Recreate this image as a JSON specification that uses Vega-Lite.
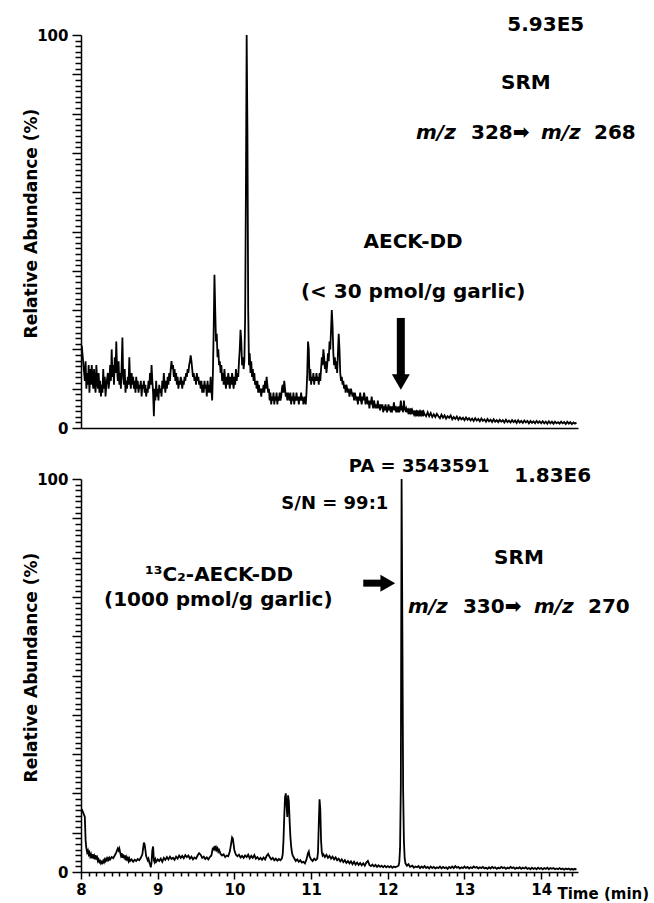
{
"$schema": "https://vega.github.io/schema/vega-lite/v6.json",
"padding": {"left": 22, "top": 15, "right": 0, "bottom": 0},
"background": "white",
"bounds": "flush",
"spacing": 51,
"config": {"view": {"stroke": null}, "font": "DejaVu Sans"},
"datasets": {
"top": [
{"t":8.01,"v":21},{"t":8.05,"v":12},{"t":8.06,"v":17},{"t":8.07,"v":10},{"t":8.08,"v":14},{"t":8.09,"v":11},{"t":8.10,"v":16},{"t":8.11,"v":9},{"t":8.12,"v":15},{"t":8.13,"v":11},{"t":8.14,"v":16},{"t":8.15,"v":12},{"t":8.16,"v":10},{"t":8.17,"v":15},{"t":8.18,"v":11},{"t":8.19,"v":9},{"t":8.20,"v":16},{"t":8.21,"v":12},{"t":8.22,"v":10},{"t":8.23,"v":14},{"t":8.24,"v":9},{"t":8.25,"v":12},{"t":8.26,"v":8},{"t":8.27,"v":11},{"t":8.28,"v":9},{"t":8.29,"v":15},{"t":8.30,"v":10},{"t":8.31,"v":13},{"t":8.32,"v":8},{"t":8.33,"v":11},{"t":8.35,"v":14},{"t":8.36,"v":10},{"t":8.37,"v":12},{"t":8.38,"v":16},{"t":8.39,"v":12},{"t":8.40,"v":20},{"t":8.41,"v":13},{"t":8.42,"v":16},{"t":8.43,"v":11},{"t":8.44,"v":18},{"t":8.45,"v":14},{"t":8.46,"v":22},{"t":8.47,"v":15},{"t":8.48,"v":12},{"t":8.49,"v":17},{"t":8.50,"v":11},{"t":8.51,"v":14},{"t":8.52,"v":10},{"t":8.53,"v":16},{"t":8.54,"v":23},{"t":8.55,"v":13},{"t":8.56,"v":11},{"t":8.57,"v":15},{"t":8.58,"v":9},{"t":8.59,"v":12},{"t":8.60,"v":10},{"t":8.61,"v":13},{"t":8.62,"v":11},{"t":8.63,"v":18},{"t":8.64,"v":12},{"t":8.65,"v":10},{"t":8.66,"v":14},{"t":8.67,"v":11},{"t":8.68,"v":13},{"t":8.69,"v":10},{"t":8.70,"v":12},{"t":8.71,"v":9},{"t":8.72,"v":13},{"t":8.73,"v":10},{"t":8.74,"v":12},{"t":8.75,"v":9},{"t":8.76,"v":11},{"t":8.77,"v":10},{"t":8.78,"v":12},{"t":8.79,"v":8},{"t":8.80,"v":11},{"t":8.81,"v":10},{"t":8.82,"v":12},{"t":8.83,"v":9},{"t":8.84,"v":11},{"t":8.85,"v":8},{"t":8.86,"v":10},{"t":8.87,"v":9},{"t":8.88,"v":12},{"t":8.89,"v":10},{"t":8.90,"v":14},{"t":8.91,"v":11},{"t":8.92,"v":16},{"t":8.93,"v":12},{"t":8.94,"v":9},{"t":8.95,"v":3},{"t":8.96,"v":10},{"t":8.97,"v":7},{"t":8.98,"v":12},{"t":8.99,"v":8},{"t":9.00,"v":10},{"t":9.01,"v":7},{"t":9.02,"v":11},{"t":9.03,"v":9},{"t":9.04,"v":10},{"t":9.05,"v":8},{"t":9.06,"v":12},{"t":9.07,"v":10},{"t":9.08,"v":14},{"t":9.09,"v":11},{"t":9.10,"v":9},{"t":9.11,"v":12},{"t":9.12,"v":10},{"t":9.13,"v":13},{"t":9.14,"v":11},{"t":9.15,"v":14},{"t":9.16,"v":12},{"t":9.17,"v":15},{"t":9.18,"v":17},{"t":9.19,"v":15},{"t":9.20,"v":16},{"t":9.21,"v":13},{"t":9.22,"v":15},{"t":9.23,"v":12},{"t":9.24,"v":14},{"t":9.25,"v":11},{"t":9.26,"v":13},{"t":9.27,"v":10},{"t":9.28,"v":12},{"t":9.29,"v":11},{"t":9.30,"v":13},{"t":9.31,"v":12},{"t":9.32,"v":10},{"t":9.33,"v":12},{"t":9.34,"v":11},{"t":9.35,"v":13},{"t":9.36,"v":12},{"t":9.37,"v":14},{"t":9.38,"v":13},{"t":9.39,"v":15},{"t":9.40,"v":14},{"t":9.41,"v":16},{"t":9.42,"v":17},{"t":9.43,"v":18.5},{"t":9.44,"v":17},{"t":9.45,"v":15},{"t":9.46,"v":13},{"t":9.47,"v":14},{"t":9.48,"v":12},{"t":9.49,"v":13},{"t":9.50,"v":11},{"t":9.51,"v":14},{"t":9.52,"v":12},{"t":9.53,"v":13},{"t":9.54,"v":11},{"t":9.55,"v":12},{"t":9.56,"v":10},{"t":9.57,"v":12},{"t":9.58,"v":9},{"t":9.59,"v":11},{"t":9.60,"v":9},{"t":9.61,"v":12},{"t":9.62,"v":10},{"t":9.63,"v":11},{"t":9.64,"v":8},{"t":9.65,"v":12},{"t":9.66,"v":9},{"t":9.67,"v":11},{"t":9.68,"v":9},{"t":9.69,"v":13},{"t":9.70,"v":10},{"t":9.71,"v":7},{"t":9.72,"v":14},{"t":9.73,"v":25},{"t":9.74,"v":39},{"t":9.75,"v":30},{"t":9.76,"v":22},{"t":9.77,"v":24},{"t":9.78,"v":18},{"t":9.79,"v":20},{"t":9.80,"v":16},{"t":9.81,"v":17},{"t":9.82,"v":14},{"t":9.83,"v":16},{"t":9.84,"v":12},{"t":9.85,"v":14},{"t":9.86,"v":11},{"t":9.87,"v":15},{"t":9.88,"v":12},{"t":9.89,"v":10},{"t":9.90,"v":13},{"t":9.91,"v":11},{"t":9.92,"v":14},{"t":9.93,"v":12},{"t":9.94,"v":10},{"t":9.95,"v":13},{"t":9.96,"v":11},{"t":9.97,"v":14},{"t":9.98,"v":12},{"t":9.99,"v":10},{"t":10.00,"v":13},{"t":10.01,"v":11},{"t":10.02,"v":15},{"t":10.03,"v":12},{"t":10.04,"v":14},{"t":10.05,"v":13},{"t":10.06,"v":17},{"t":10.07,"v":20},{"t":10.08,"v":25},{"t":10.09,"v":22},{"t":10.10,"v":16},{"t":10.11,"v":18},{"t":10.12,"v":15},{"t":10.13,"v":17},{"t":10.14,"v":28},{"t":10.15,"v":60},{"t":10.16,"v":100},{"t":10.17,"v":75},{"t":10.18,"v":30},{"t":10.19,"v":16},{"t":10.20,"v":19},{"t":10.21,"v":14},{"t":10.22,"v":17},{"t":10.23,"v":13},{"t":10.24,"v":15},{"t":10.25,"v":12},{"t":10.26,"v":14},{"t":10.27,"v":11},{"t":10.28,"v":12},{"t":10.29,"v":10},{"t":10.30,"v":12},{"t":10.31,"v":9},{"t":10.32,"v":11},{"t":10.33,"v":9},{"t":10.34,"v":10},{"t":10.35,"v":8},{"t":10.36,"v":10},{"t":10.37,"v":9},{"t":10.38,"v":11},{"t":10.39,"v":9},{"t":10.40,"v":12},{"t":10.41,"v":10},{"t":10.42,"v":13},{"t":10.43,"v":11},{"t":10.44,"v":9},{"t":10.45,"v":10},{"t":10.46,"v":7},{"t":10.47,"v":9},{"t":10.48,"v":6},{"t":10.49,"v":8},{"t":10.50,"v":7},{"t":10.51,"v":9},{"t":10.52,"v":6},{"t":10.53,"v":8},{"t":10.54,"v":7},{"t":10.55,"v":9},{"t":10.56,"v":6},{"t":10.57,"v":8},{"t":10.58,"v":7},{"t":10.59,"v":9},{"t":10.60,"v":7},{"t":10.61,"v":8},{"t":10.62,"v":10},{"t":10.63,"v":11},{"t":10.64,"v":9},{"t":10.65,"v":12},{"t":10.66,"v":10},{"t":10.67,"v":8},{"t":10.68,"v":9},{"t":10.69,"v":7},{"t":10.70,"v":9},{"t":10.71,"v":8},{"t":10.72,"v":7},{"t":10.73,"v":9},{"t":10.74,"v":6},{"t":10.75,"v":8},{"t":10.76,"v":7},{"t":10.77,"v":9},{"t":10.78,"v":6},{"t":10.79,"v":8},{"t":10.80,"v":7},{"t":10.81,"v":9},{"t":10.82,"v":7},{"t":10.83,"v":8},{"t":10.84,"v":6},{"t":10.85,"v":8},{"t":10.86,"v":7},{"t":10.87,"v":9},{"t":10.88,"v":7},{"t":10.89,"v":8},{"t":10.90,"v":6},{"t":10.91,"v":7},{"t":10.92,"v":8},{"t":10.93,"v":6},{"t":10.94,"v":9},{"t":10.95,"v":14},{"t":10.96,"v":22},{"t":10.97,"v":20},{"t":10.98,"v":12},{"t":10.99,"v":15},{"t":11.00,"v":11},{"t":11.01,"v":13},{"t":11.02,"v":12},{"t":11.03,"v":14},{"t":11.04,"v":11},{"t":11.05,"v":13},{"t":11.06,"v":12},{"t":11.07,"v":14},{"t":11.08,"v":12},{"t":11.09,"v":13},{"t":11.10,"v":11},{"t":11.11,"v":14},{"t":11.12,"v":12},{"t":11.13,"v":15},{"t":11.14,"v":18},{"t":11.15,"v":16},{"t":11.16,"v":20},{"t":11.17,"v":18},{"t":11.18,"v":15},{"t":11.19,"v":17},{"t":11.20,"v":14},{"t":11.21,"v":16},{"t":11.22,"v":19},{"t":11.23,"v":17},{"t":11.24,"v":22},{"t":11.25,"v":20},{"t":11.26,"v":25},{"t":11.27,"v":30},{"t":11.28,"v":26},{"t":11.29,"v":19},{"t":11.30,"v":16},{"t":11.31,"v":18},{"t":11.32,"v":15},{"t":11.33,"v":17},{"t":11.34,"v":14},{"t":11.35,"v":19},{"t":11.36,"v":24},{"t":11.37,"v":20},{"t":11.38,"v":14},{"t":11.39,"v":12},{"t":11.40,"v":13},{"t":11.41,"v":11},{"t":11.42,"v":12},{"t":11.43,"v":10},{"t":11.44,"v":11},{"t":11.45,"v":9},{"t":11.46,"v":11},{"t":11.47,"v":10},{"t":11.48,"v":9},{"t":11.49,"v":10},{"t":11.50,"v":8},{"t":11.52,"v":10},{"t":11.53,"v":9},{"t":11.54,"v":8},{"t":11.55,"v":9},{"t":11.56,"v":7},{"t":11.57,"v":9},{"t":11.58,"v":8},{"t":11.59,"v":7},{"t":11.60,"v":8},{"t":11.61,"v":6},{"t":11.62,"v":8},{"t":11.63,"v":7},{"t":11.64,"v":9},{"t":11.65,"v":7},{"t":11.66,"v":6},{"t":11.67,"v":8},{"t":11.68,"v":7},{"t":11.69,"v":9},{"t":11.70,"v":8},{"t":11.71,"v":6},{"t":11.72,"v":7},{"t":11.73,"v":8},{"t":11.74,"v":6},{"t":11.75,"v":7},{"t":11.76,"v":5},{"t":11.77,"v":7},{"t":11.78,"v":6},{"t":11.79,"v":8},{"t":11.80,"v":6},{"t":11.81,"v":5},{"t":11.82,"v":7},{"t":11.83,"v":6},{"t":11.84,"v":5},{"t":11.85,"v":6},{"t":11.86,"v":5},{"t":11.87,"v":7},{"t":11.88,"v":5},{"t":11.89,"v":6},{"t":11.90,"v":4.5},{"t":11.91,"v":6},{"t":11.92,"v":5},{"t":11.93,"v":6},{"t":11.94,"v":4},{"t":11.95,"v":5.5},{"t":11.96,"v":4.5},{"t":11.97,"v":6},{"t":11.98,"v":5},{"t":11.99,"v":4},{"t":12.00,"v":5},{"t":12.01,"v":6},{"t":12.02,"v":4.5},{"t":12.03,"v":5},{"t":12.04,"v":4},{"t":12.05,"v":5.5},{"t":12.06,"v":4.5},{"t":12.07,"v":5},{"t":12.08,"v":6.5},{"t":12.09,"v":4.5},{"t":12.10,"v":5},{"t":12.11,"v":4},{"t":12.12,"v":5},{"t":12.13,"v":4.5},{"t":12.14,"v":5.5},{"t":12.15,"v":4},{"t":12.16,"v":5},{"t":12.17,"v":7},{"t":12.18,"v":4.5},{"t":12.19,"v":5},{"t":12.20,"v":4},{"t":12.21,"v":7},{"t":12.22,"v":5},{"t":12.23,"v":4.5},{"t":12.24,"v":5},{"t":12.25,"v":4},{"t":12.26,"v":5},{"t":12.27,"v":3.5},{"t":12.28,"v":4.5},{"t":12.29,"v":4},{"t":12.30,"v":5},{"t":12.31,"v":3.5},{"t":12.32,"v":4.5},{"t":12.33,"v":4},{"t":12.34,"v":3.5},{"t":12.35,"v":4.5},{"t":12.36,"v":3.5},{"t":12.37,"v":4},{"t":12.38,"v":3},{"t":12.39,"v":4.5},{"t":12.40,"v":3.5},{"t":12.41,"v":4},{"t":12.42,"v":3},{"t":12.43,"v":4},{"t":12.44,"v":3.5},{"t":12.45,"v":4.5},{"t":12.46,"v":3},{"t":12.47,"v":4},{"t":12.48,"v":3.5},{"t":12.50,"v":3},{"t":12.52,"v":4},{"t":12.54,"v":3},{"t":12.56,"v":3.8},{"t":12.58,"v":2.8},{"t":12.60,"v":3.5},{"t":12.62,"v":2.8},{"t":12.64,"v":3.6},{"t":12.66,"v":3},{"t":12.68,"v":2.5},{"t":12.70,"v":3.4},{"t":12.72,"v":2.6},{"t":12.74,"v":3.2},{"t":12.76,"v":2.4},{"t":12.78,"v":3},{"t":12.80,"v":2.6},{"t":12.82,"v":3.2},{"t":12.84,"v":2.2},{"t":12.86,"v":2.8},{"t":12.88,"v":2.3},{"t":12.90,"v":2.9},{"t":12.92,"v":2.1},{"t":12.94,"v":2.7},{"t":12.96,"v":2.2},{"t":12.98,"v":2.6},{"t":13.00,"v":2.0},{"t":13.02,"v":2.7},{"t":13.04,"v":2.1},{"t":13.06,"v":2.5},{"t":13.08,"v":1.9},{"t":13.10,"v":2.4},{"t":13.12,"v":1.8},{"t":13.14,"v":2.5},{"t":13.16,"v":1.9},{"t":13.18,"v":2.3},{"t":13.20,"v":1.7},{"t":13.22,"v":2.4},{"t":13.24,"v":1.8},{"t":13.26,"v":2.2},{"t":13.28,"v":1.6},{"t":13.30,"v":2.3},{"t":13.32,"v":1.7},{"t":13.34,"v":2.1},{"t":13.36,"v":1.5},{"t":13.38,"v":2.2},{"t":13.40,"v":1.6},{"t":13.42,"v":2.0},{"t":13.44,"v":1.5},{"t":13.46,"v":2.1},{"t":13.48,"v":1.6},{"t":13.50,"v":2.0},{"t":13.52,"v":1.4},{"t":13.54,"v":2.1},{"t":13.56,"v":1.5},{"t":13.58,"v":1.9},{"t":13.60,"v":1.4},{"t":13.62,"v":2.0},{"t":13.64,"v":1.5},{"t":13.66,"v":1.9},{"t":13.68,"v":1.3},{"t":13.70,"v":2.0},{"t":13.72,"v":1.4},{"t":13.74,"v":1.8},{"t":13.76,"v":1.3},{"t":13.78,"v":1.9},{"t":13.80,"v":1.4},{"t":13.82,"v":1.8},{"t":13.84,"v":1.2},{"t":13.86,"v":1.8},{"t":13.88,"v":1.3},{"t":13.90,"v":1.7},{"t":13.92,"v":1.2},{"t":13.94,"v":1.8},{"t":13.96,"v":1.3},{"t":13.98,"v":1.7},{"t":14.00,"v":1.2},{"t":14.02,"v":1.7},{"t":14.04,"v":1.2},{"t":14.06,"v":1.6},{"t":14.08,"v":1.1},{"t":14.10,"v":1.7},{"t":14.12,"v":1.2},{"t":14.14,"v":1.6},{"t":14.16,"v":1.1},{"t":14.18,"v":1.6},{"t":14.20,"v":1.2},{"t":14.22,"v":1.5},{"t":14.24,"v":1.1},{"t":14.26,"v":1.6},{"t":14.28,"v":1.2},{"t":14.30,"v":1.5},{"t":14.32,"v":1.0},{"t":14.34,"v":1.6},{"t":14.36,"v":1.1},{"t":14.38,"v":1.5},{"t":14.40,"v":1.0},{"t":14.42,"v":1.4},{"t":14.44,"v":1.1},{"t":14.46,"v":1.4}
],
"bottom": [
{"t":8.01,"v":16},{"t":8.05,"v":14},{"t":8.06,"v":8},{"t":8.07,"v":6},{"t":8.08,"v":5},{"t":8.09,"v":5.5},{"t":8.10,"v":4.5},{"t":8.11,"v":5},{"t":8.12,"v":4},{"t":8.13,"v":4.5},{"t":8.14,"v":3.5},{"t":8.15,"v":4.5},{"t":8.16,"v":3.8},{"t":8.17,"v":4.2},{"t":8.18,"v":3.2},{"t":8.19,"v":4.3},{"t":8.20,"v":3.5},{"t":8.21,"v":3.8},{"t":8.22,"v":2.8},{"t":8.23,"v":3.2},{"t":8.24,"v":2.5},{"t":8.25,"v":2.8},{"t":8.26,"v":2.2},{"t":8.27,"v":2.6},{"t":8.28,"v":2.3},{"t":8.29,"v":2.9},{"t":8.30,"v":2.5},{"t":8.31,"v":3.2},{"t":8.32,"v":2.8},{"t":8.33,"v":3.4},{"t":8.34,"v":3},{"t":8.35,"v":3.5},{"t":8.36,"v":3.1},{"t":8.37,"v":3.6},{"t":8.38,"v":3.2},{"t":8.40,"v":3.8},{"t":8.42,"v":3.5},{"t":8.44,"v":4.2},{"t":8.46,"v":5},{"t":8.48,"v":6},{"t":8.49,"v":5.5},{"t":8.50,"v":6},{"t":8.51,"v":5},{"t":8.52,"v":4.2},{"t":8.53,"v":4.8},{"t":8.54,"v":3.6},{"t":8.55,"v":4.5},{"t":8.56,"v":3.5},{"t":8.57,"v":4.2},{"t":8.58,"v":3},{"t":8.59,"v":3.8},{"t":8.60,"v":3.2},{"t":8.61,"v":3.6},{"t":8.62,"v":2.8},{"t":8.63,"v":3.4},{"t":8.64,"v":2.8},{"t":8.66,"v":3.2},{"t":8.68,"v":2.6},{"t":8.70,"v":3.1},{"t":8.72,"v":2.8},{"t":8.74,"v":3.3},{"t":8.76,"v":3},{"t":8.78,"v":3.6},{"t":8.80,"v":4.5},{"t":8.81,"v":6},{"t":8.82,"v":7.5},{"t":8.83,"v":7},{"t":8.84,"v":5.5},{"t":8.85,"v":4},{"t":8.86,"v":3.5},{"t":8.87,"v":3},{"t":8.88,"v":3.4},{"t":8.89,"v":2.5},{"t":8.90,"v":2},{"t":8.91,"v":1.2},{"t":8.92,"v":2.5},{"t":8.93,"v":5.5},{"t":8.94,"v":6.5},{"t":8.95,"v":3},{"t":8.96,"v":2.5},{"t":8.97,"v":3.2},{"t":8.98,"v":2.6},{"t":9.00,"v":3.2},{"t":9.02,"v":2.8},{"t":9.04,"v":3.4},{"t":9.06,"v":2.6},{"t":9.08,"v":3.6},{"t":9.10,"v":3.1},{"t":9.12,"v":3.8},{"t":9.14,"v":3.2},{"t":9.16,"v":3.9},{"t":9.18,"v":3.3},{"t":9.20,"v":3.6},{"t":9.22,"v":3.1},{"t":9.24,"v":3.9},{"t":9.26,"v":3.4},{"t":9.28,"v":4.2},{"t":9.30,"v":3.6},{"t":9.32,"v":4.1},{"t":9.34,"v":3.5},{"t":9.36,"v":4.3},{"t":9.38,"v":3.8},{"t":9.40,"v":4.2},{"t":9.42,"v":3.4},{"t":9.44,"v":3.9},{"t":9.46,"v":3.2},{"t":9.48,"v":3.7},{"t":9.50,"v":3.4},{"t":9.52,"v":4.2},{"t":9.54,"v":4.8},{"t":9.56,"v":4.4},{"t":9.58,"v":3.6},{"t":9.60,"v":3.9},{"t":9.62,"v":3.3},{"t":9.64,"v":3.7},{"t":9.66,"v":3.2},{"t":9.68,"v":3.8},{"t":9.70,"v":4.2},{"t":9.72,"v":6.2},{"t":9.73,"v":5.5},{"t":9.74,"v":6.6},{"t":9.75,"v":5.8},{"t":9.76,"v":6.3},{"t":9.77,"v":5.6},{"t":9.78,"v":6},{"t":9.79,"v":5.2},{"t":9.80,"v":5.6},{"t":9.82,"v":4.6},{"t":9.84,"v":4.2},{"t":9.86,"v":4.5},{"t":9.88,"v":3.8},{"t":9.90,"v":4.2},{"t":9.92,"v":4},{"t":9.94,"v":5.2},{"t":9.96,"v":7.5},{"t":9.97,"v":8.8},{"t":9.98,"v":8.5},{"t":9.99,"v":7},{"t":10.00,"v":5.5},{"t":10.02,"v":4.4},{"t":10.04,"v":4},{"t":10.06,"v":4.4},{"t":10.08,"v":3.7},{"t":10.10,"v":4.1},{"t":10.12,"v":3.6},{"t":10.14,"v":4.2},{"t":10.16,"v":3.8},{"t":10.18,"v":4.4},{"t":10.20,"v":3.5},{"t":10.22,"v":4.1},{"t":10.24,"v":3.6},{"t":10.26,"v":4.3},{"t":10.28,"v":3.4},{"t":10.30,"v":3.8},{"t":10.32,"v":3.2},{"t":10.34,"v":3.6},{"t":10.36,"v":3.1},{"t":10.38,"v":3.7},{"t":10.40,"v":3.2},{"t":10.42,"v":4.1},{"t":10.44,"v":4.6},{"t":10.46,"v":3.8},{"t":10.48,"v":3.2},{"t":10.50,"v":3.6},{"t":10.52,"v":3},{"t":10.54,"v":3.4},{"t":10.56,"v":2.9},{"t":10.58,"v":3.3},{"t":10.60,"v":3},{"t":10.62,"v":3.5},{"t":10.63,"v":4.5},{"t":10.64,"v":8},{"t":10.65,"v":14},{"t":10.66,"v":19},{"t":10.67,"v":20},{"t":10.68,"v":17},{"t":10.69,"v":14},{"t":10.70,"v":19.5},{"t":10.71,"v":18},{"t":10.72,"v":13},{"t":10.73,"v":9},{"t":10.74,"v":6.5},{"t":10.75,"v":5},{"t":10.76,"v":4.2},{"t":10.78,"v":3.5},{"t":10.80,"v":2.8},{"t":10.82,"v":3.2},{"t":10.84,"v":2.6},{"t":10.86,"v":3},{"t":10.88,"v":2.4},{"t":10.90,"v":2.6},{"t":10.92,"v":2.2},{"t":10.94,"v":3.2},{"t":10.96,"v":4.8},{"t":10.97,"v":5.2},{"t":10.98,"v":4},{"t":11.00,"v":3.2},{"t":11.02,"v":2.8},{"t":11.04,"v":3.4},{"t":11.06,"v":3},{"t":11.08,"v":3.4},{"t":11.09,"v":5},{"t":11.10,"v":12},{"t":11.11,"v":18.5},{"t":11.12,"v":16},{"t":11.13,"v":8},{"t":11.14,"v":5},{"t":11.15,"v":4.2},{"t":11.16,"v":4.5},{"t":11.18,"v":3.8},{"t":11.20,"v":4.4},{"t":11.22,"v":3.6},{"t":11.24,"v":4.1},{"t":11.26,"v":3.4},{"t":11.28,"v":3.9},{"t":11.30,"v":3.2},{"t":11.32,"v":3.7},{"t":11.34,"v":3},{"t":11.36,"v":3.4},{"t":11.38,"v":2.7},{"t":11.40,"v":3.2},{"t":11.42,"v":2.5},{"t":11.44,"v":3},{"t":11.46,"v":2.3},{"t":11.48,"v":2.8},{"t":11.50,"v":2.2},{"t":11.52,"v":2.7},{"t":11.54,"v":2},{"t":11.56,"v":2.6},{"t":11.58,"v":1.9},{"t":11.60,"v":2.4},{"t":11.62,"v":1.8},{"t":11.64,"v":2.3},{"t":11.66,"v":1.7},{"t":11.68,"v":2.2},{"t":11.70,"v":1.6},{"t":11.72,"v":2.4},{"t":11.74,"v":2.8},{"t":11.76,"v":1.8},{"t":11.78,"v":1.5},{"t":11.80,"v":1.9},{"t":11.82,"v":1.4},{"t":11.84,"v":1.8},{"t":11.86,"v":1.3},{"t":11.88,"v":1.7},{"t":11.90,"v":1.3},{"t":11.92,"v":1.6},{"t":11.94,"v":1.2},{"t":11.96,"v":1.6},{"t":11.98,"v":1.2},{"t":12.00,"v":1.5},{"t":12.02,"v":1.2},{"t":12.04,"v":1.5},{"t":12.06,"v":1.1},{"t":12.08,"v":1.4},{"t":12.10,"v":1.2},{"t":12.12,"v":1.4},{"t":12.14,"v":1.6},{"t":12.15,"v":2.5},{"t":12.16,"v":6},{"t":12.17,"v":22},{"t":12.18,"v":100},{"t":12.19,"v":62},{"t":12.20,"v":21},{"t":12.21,"v":8},{"t":12.22,"v":3.5},{"t":12.23,"v":2.2},{"t":12.25,"v":1.6},{"t":12.27,"v":2},{"t":12.29,"v":1.3},{"t":12.32,"v":1.6},{"t":12.34,"v":1.1},{"t":12.36,"v":1.4},{"t":12.38,"v":1.2},{"t":12.40,"v":1.5},{"t":12.42,"v":1.0},{"t":12.44,"v":1.4},{"t":12.46,"v":1.1},{"t":12.48,"v":1.5},{"t":12.50,"v":1.0},{"t":12.52,"v":1.3},{"t":12.54,"v":0.9},{"t":12.56,"v":1.4},{"t":12.58,"v":1.0},{"t":12.60,"v":1.3},{"t":12.62,"v":0.9},{"t":12.64,"v":1.2},{"t":12.66,"v":1.0},{"t":12.68,"v":1.4},{"t":12.70,"v":0.9},{"t":12.72,"v":1.3},{"t":12.74,"v":1.0},{"t":12.76,"v":1.2},{"t":12.78,"v":0.8},{"t":12.80,"v":1.3},{"t":12.82,"v":1.0},{"t":12.84,"v":1.4},{"t":12.86,"v":1.0},{"t":12.88,"v":1.5},{"t":12.90,"v":1.1},{"t":12.92,"v":1.3},{"t":12.94,"v":0.9},{"t":12.96,"v":1.2},{"t":12.98,"v":1.0},{"t":13.00,"v":1.4},{"t":13.02,"v":1.0},{"t":13.04,"v":1.3},{"t":13.06,"v":0.9},{"t":13.08,"v":1.2},{"t":13.10,"v":1.0},{"t":13.12,"v":1.4},{"t":13.14,"v":1.1},{"t":13.16,"v":1.3},{"t":13.18,"v":0.9},{"t":13.20,"v":1.2},{"t":13.22,"v":1.0},{"t":13.24,"v":1.3},{"t":13.26,"v":0.9},{"t":13.28,"v":1.1},{"t":13.30,"v":0.8},{"t":13.32,"v":1.2},{"t":13.34,"v":0.9},{"t":13.36,"v":1.3},{"t":13.38,"v":1.0},{"t":13.40,"v":1.2},{"t":13.42,"v":0.8},{"t":13.44,"v":1.1},{"t":13.46,"v":0.9},{"t":13.48,"v":1.3},{"t":13.50,"v":1.0},{"t":13.52,"v":1.2},{"t":13.54,"v":0.8},{"t":13.56,"v":1.1},{"t":13.58,"v":0.9},{"t":13.60,"v":1.3},{"t":13.62,"v":1.0},{"t":13.64,"v":1.2},{"t":13.66,"v":0.8},{"t":13.68,"v":1.1},{"t":13.70,"v":0.9},{"t":13.72,"v":1.2},{"t":13.74,"v":0.8},{"t":13.76,"v":1.1},{"t":13.78,"v":0.9},{"t":13.80,"v":1.2},{"t":13.82,"v":0.8},{"t":13.84,"v":1.0},{"t":13.86,"v":0.7},{"t":13.88,"v":1.1},{"t":13.90,"v":0.8},{"t":13.92,"v":1.0},{"t":13.94,"v":0.7},{"t":13.96,"v":1.1},{"t":13.98,"v":0.8},{"t":14.00,"v":1.0},{"t":14.02,"v":0.7},{"t":14.04,"v":1.0},{"t":14.06,"v":0.8},{"t":14.08,"v":1.1},{"t":14.10,"v":0.7},{"t":14.12,"v":1.0},{"t":14.14,"v":0.8},{"t":14.16,"v":1.0},{"t":14.18,"v":0.7},{"t":14.20,"v":0.9},{"t":14.22,"v":0.7},{"t":14.24,"v":1.0},{"t":14.26,"v":0.7},{"t":14.28,"v":0.9},{"t":14.30,"v":0.6},{"t":14.32,"v":0.9},{"t":14.34,"v":0.7},{"t":14.36,"v":0.9},{"t":14.38,"v":0.6},{"t":14.40,"v":0.8},{"t":14.42,"v":0.6},{"t":14.44,"v":0.8},{"t":14.46,"v":0.6}
]
},
"vconcat": [
{
"width": 497, "height": 393,
"layer": [
{"data": {"name": "top"},
 "mark": {"type": "line", "color": "black", "strokeWidth": 1.8},
 "encoding": {
  "x": {"field": "t", "type": "quantitative", "scale": {"domain": [8, 14.48], "nice": false, "zero": false},
        "axis": {"title": null, "labels": false, "ticks": false, "grid": false, "domainColor": "black", "domainWidth": 1.5}},
  "y": {"field": "v", "type": "quantitative", "scale": {"domain": [0, 100], "nice": false},
        "axis": {"title": "Relative Abundance (%)", "grid": false, "tickCount": 500,
          "values": [0,1.4286,2.8571,4.2857,5.7143,7.1429,8.5714,10,11.4286,12.8571,14.2857,15.7143,17.1429,18.5714,20,21.4286,22.8571,24.2857,25.7143,27.1429,28.5714,30,31.4286,32.8571,34.2857,35.7143,37.1429,38.5714,40,41.4286,42.8571,44.2857,45.7143,47.1429,48.5714,50,51.4286,52.8571,54.2857,55.7143,57.1429,58.5714,60,61.4286,62.8571,64.2857,65.7143,67.1429,68.5714,70,71.4286,72.8571,74.2857,75.7143,77.1429,78.5714,80,81.4286,82.8571,84.2857,85.7143,87.1429,88.5714,90,91.4286,92.8571,94.2857,95.7143,97.1429,98.5714,100],
          "labelExpr": "datum.value == 0 || datum.value == 100 ? format(datum.value, 'd') : ''",
          "labelOverlap": false, "labelFlush": false,
          "labelFont": "DejaVu Sans", "labelFontWeight": "bold", "labelFontSize": 15, "labelColor": "black", "labelPadding": 4,
          "tickSize": {"condition": {"test": "datum.value % 10 === 0", "value": 9}, "value": 6},
          "tickColor": "black", "tickWidth": 1.5,
          "domainColor": "black", "domainWidth": 1.5,
          "titleFont": "DejaVu Sans", "titleFontWeight": "bold", "titleFontSize": 17, "titleColor": "black",
          "titleX": -50, "titleY": 188, "titleBaseline": "middle", "titleAlign": "center", "titleAngle": -90}}
 }},
{"data": {"values": [
  {"t": 14.06, "v": 102.5, "label": "5.93E5"},
  {"t": 13.80, "v": 87.8, "label": "SRM"},
  {"t": 12.33, "v": 47.3, "label": "AECK-DD"},
  {"t": 12.33, "v": 34.6, "label": "(< 30 pmol/g garlic)"}
 ]},
 "mark": {"type": "text", "font": "DejaVu Sans", "fontWeight": "bold", "fontSize": 20, "align": "center", "baseline": "middle", "color": "black"},
 "encoding": {"x": {"field": "t", "type": "quantitative"}, "y": {"field": "v", "type": "quantitative"}, "text": {"field": "label"}}},
{"data": {"values": [
  {"t": 12.368, "v": 75.1, "label": "m/z"},
  {"t": 13.997, "v": 75.1, "label": "m/z"}
 ]},
 "mark": {"type": "text", "font": "DejaVu Sans", "fontWeight": "bold", "fontStyle": "italic", "fontSize": 20, "align": "left", "baseline": "middle", "color": "black"},
 "encoding": {"x": {"field": "t", "type": "quantitative"}, "y": {"field": "v", "type": "quantitative"}, "text": {"field": "label"}}},
{"data": {"values": [
  {"t": 13.085, "v": 75.1, "label": "328➡"},
  {"t": 14.689, "v": 75.1, "label": "268"}
 ]},
 "mark": {"type": "text", "font": "DejaVu Sans", "fontWeight": "bold", "fontSize": 20, "align": "left", "baseline": "middle", "color": "black"},
 "encoding": {"x": {"field": "t", "type": "quantitative"}, "y": {"field": "v", "type": "quantitative"}, "text": {"field": "label"}}},
{"data": {"values": [{"t": 12.17, "v": 28, "v2": 11.5}]},
 "mark": {"type": "rule", "color": "black", "strokeWidth": 8},
 "encoding": {"x": {"field": "t", "type": "quantitative"}, "y": {"field": "v", "type": "quantitative"}, "y2": {"field": "v2"}}},
{"data": {"values": [{"t": 12.17, "v": 11.7}]},
 "mark": {"type": "point", "shape": "triangle-down", "size": 324, "filled": true, "color": "black", "opacity": 1, "strokeWidth": 0},
 "encoding": {"x": {"field": "t", "type": "quantitative"}, "y": {"field": "v", "type": "quantitative"}}}
]
},
{
"width": 497, "height": 393,
"layer": [
{"data": {"name": "bottom"},
 "mark": {"type": "line", "color": "black", "strokeWidth": 1.8},
 "encoding": {
  "x": {"field": "t", "type": "quantitative", "scale": {"domain": [8, 14.48], "nice": false, "zero": false},
        "axis": {"title": "Time (min)", "grid": false, "tickCount": 500,
          "values": [8,8.1,8.2,8.3,8.4,8.5,8.6,8.7,8.8,8.9,9,9.1,9.2,9.3,9.4,9.5,9.6,9.7,9.8,9.9,10,10.1,10.2,10.3,10.4,10.5,10.6,10.7,10.8,10.9,11,11.1,11.2,11.3,11.4,11.5,11.6,11.7,11.8,11.9,12,12.1,12.2,12.3,12.4,12.5,12.6,12.7,12.8,12.9,13,13.1,13.2,13.3,13.4,13.5,13.6,13.7,13.8,13.9,14,14.1,14.2,14.3,14.4],
          "labelExpr": "abs(datum.value - round(datum.value)) < 0.001 ? format(round(datum.value), 'd') : ''",
          "labelOverlap": false, "labelFlush": false,
          "labelFont": "DejaVu Sans", "labelFontWeight": "bold", "labelFontSize": 15, "labelColor": "black", "labelPadding": 3,
          "tickSize": {"condition": {"test": "abs(datum.value - round(datum.value)) < 0.001", "value": 7}, "value": 4},
          "tickColor": "black", "tickWidth": 1.5,
          "domainColor": "black", "domainWidth": 1.5,
          "titleFont": "DejaVu Sans", "titleFontWeight": "bold", "titleFontSize": 15, "titleColor": "black",
          "titleX": 476, "titleY": 21, "titleAlign": "left", "titleBaseline": "middle", "titleAngle": 0}},
  "y": {"field": "v", "type": "quantitative", "scale": {"domain": [0, 100], "nice": false},
        "axis": {"title": "Relative Abundance (%)", "grid": false, "tickCount": 500,
          "values": [0,1.4286,2.8571,4.2857,5.7143,7.1429,8.5714,10,11.4286,12.8571,14.2857,15.7143,17.1429,18.5714,20,21.4286,22.8571,24.2857,25.7143,27.1429,28.5714,30,31.4286,32.8571,34.2857,35.7143,37.1429,38.5714,40,41.4286,42.8571,44.2857,45.7143,47.1429,48.5714,50,51.4286,52.8571,54.2857,55.7143,57.1429,58.5714,60,61.4286,62.8571,64.2857,65.7143,67.1429,68.5714,70,71.4286,72.8571,74.2857,75.7143,77.1429,78.5714,80,81.4286,82.8571,84.2857,85.7143,87.1429,88.5714,90,91.4286,92.8571,94.2857,95.7143,97.1429,98.5714,100],
          "labelExpr": "datum.value == 0 || datum.value == 100 ? format(datum.value, 'd') : ''",
          "labelOverlap": false, "labelFlush": false,
          "labelFont": "DejaVu Sans", "labelFontWeight": "bold", "labelFontSize": 15, "labelColor": "black", "labelPadding": 4,
          "tickSize": {"condition": {"test": "datum.value % 10 === 0", "value": 9}, "value": 6},
          "tickColor": "black", "tickWidth": 1.5,
          "domainColor": "black", "domainWidth": 1.5,
          "titleFont": "DejaVu Sans", "titleFontWeight": "bold", "titleFontSize": 17, "titleColor": "black",
          "titleX": -50, "titleY": 188, "titleBaseline": "middle", "titleAlign": "center", "titleAngle": -90}}
 }},
{"data": {"values": [
  {"t": 14.15, "v": 100.8, "label": "1.83E6"},
  {"t": 13.71, "v": 79.9, "label": "SRM"},
  {"t": 9.80, "v": 75.6, "label": "¹³C₂-AECK-DD"},
  {"t": 9.79, "v": 69.2, "label": "(1000 pmol/g garlic)"}
 ]},
 "mark": {"type": "text", "font": "DejaVu Sans", "fontWeight": "bold", "fontSize": 20, "align": "center", "baseline": "middle", "color": "black"},
 "encoding": {"x": {"field": "t", "type": "quantitative"}, "y": {"field": "v", "type": "quantitative"}, "text": {"field": "label"}}},
{"data": {"values": [
  {"t": 12.41, "v": 103, "label": "PA = 3543591"},
  {"t": 11.31, "v": 93.6, "label": "S/N = 99:1"}
 ]},
 "mark": {"type": "text", "font": "DejaVu Sans", "fontWeight": "bold", "fontSize": 18, "align": "center", "baseline": "middle", "color": "black"},
 "encoding": {"x": {"field": "t", "type": "quantitative"}, "y": {"field": "v", "type": "quantitative"}, "text": {"field": "label"}}},
{"data": {"values": [
  {"t": 12.263, "v": 67.4, "label": "m/z"},
  {"t": 13.906, "v": 67.4, "label": "m/z"}
 ]},
 "mark": {"type": "text", "font": "DejaVu Sans", "fontWeight": "bold", "fontStyle": "italic", "fontSize": 20, "align": "left", "baseline": "middle", "color": "black"},
 "encoding": {"x": {"field": "t", "type": "quantitative"}, "y": {"field": "v", "type": "quantitative"}, "text": {"field": "label"}}},
{"data": {"values": [
  {"t": 12.98, "v": 67.4, "label": "330➡"},
  {"t": 14.61, "v": 67.4, "label": "270"}
 ]},
 "mark": {"type": "text", "font": "DejaVu Sans", "fontWeight": "bold", "fontSize": 20, "align": "left", "baseline": "middle", "color": "black"},
 "encoding": {"x": {"field": "t", "type": "quantitative"}, "y": {"field": "v", "type": "quantitative"}, "text": {"field": "label"}}},
{"data": {"values": [{"t": 11.68, "t2": 11.97, "v": 73.5}]},
 "mark": {"type": "rule", "color": "black", "strokeWidth": 7},
 "encoding": {"x": {"field": "t", "type": "quantitative"}, "x2": {"field": "t2"}, "y": {"field": "v", "type": "quantitative"}}},
{"data": {"values": [{"t": 12.0, "v": 73.5}]},
 "mark": {"type": "point", "shape": "triangle-right", "size": 289, "filled": true, "color": "black", "opacity": 1, "strokeWidth": 0},
 "encoding": {"x": {"field": "t", "type": "quantitative"}, "y": {"field": "v", "type": "quantitative"}}}
]
}
]
}
